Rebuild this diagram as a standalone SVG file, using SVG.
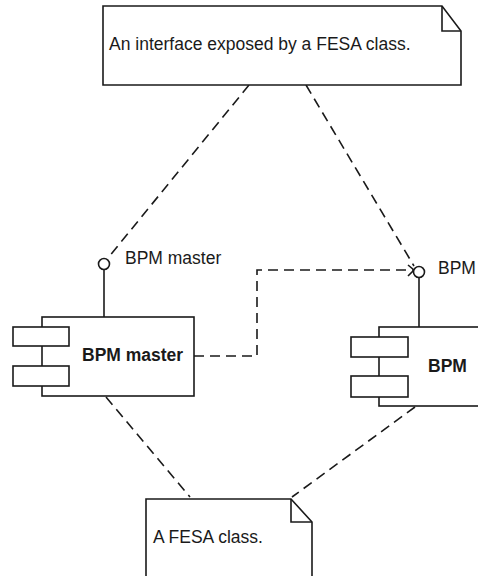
<svg xmlns="http://www.w3.org/2000/svg" width="478" height="576" viewBox="0 0 478 576">
<style>
.sh{fill:#fff;stroke:#1a1a1a;stroke-width:1.6}
.ln{fill:none;stroke:#1a1a1a;stroke-width:1.6}
.dash{fill:none;stroke:#1a1a1a;stroke-width:1.6;stroke-dasharray:10 6}
.t{font-family:"Liberation Sans",Arial,sans-serif;font-size:17.5px;fill:#1a1a1a}
.b{font-weight:bold}
</style>
<rect width="478" height="576" fill="#fff"/>
<g id="connectors">
<line class="dash" x1="249" y1="85" x2="108" y2="258"/>
<line class="dash" x1="306" y1="85" x2="414" y2="266"/>
<polyline class="dash" points="194,356 257,356 257,270 413,270"/>
<polyline class="ln" points="408,265 414,270 408,276"/>
<line class="dash" x1="106" y1="397" x2="190" y2="497"/>
<line class="dash" x1="415" y1="407" x2="292" y2="497"/>
</g>
<g id="note-interface">
<path class="sh" d="M103,6 H442 L461,31 V85 H103 Z"/>
<polyline class="ln" points="442,6 442,31 461,31"/>
<text class="t" x="109" y="50">An interface exposed by a FESA class.</text>
</g>
<g id="iface-bpm-master">
<line class="ln" x1="104" y1="270" x2="104" y2="317"/>
<circle class="sh" cx="104" cy="264" r="5.5"/>
<text class="t" x="125" y="264">BPM master</text>
</g>
<g id="comp-bpm-master">
<rect class="sh" x="42" y="317" width="152" height="79"/>
<rect class="sh" x="13" y="327" width="56" height="19"/>
<rect class="sh" x="13" y="366" width="56" height="20"/>
<text class="t b" x="82" y="361">BPM master</text>
</g>
<g id="iface-bpm">
<line class="ln" x1="419" y1="278" x2="419" y2="327"/>
<circle class="sh" cx="419" cy="272" r="5.5"/>
<text class="t" x="438" y="274">BPM</text>
</g>
<g id="comp-bpm">
<rect class="sh" x="379" y="327" width="110" height="79"/>
<rect class="sh" x="351" y="337" width="57" height="20"/>
<rect class="sh" x="351" y="376" width="57" height="21"/>
<text class="t b" x="428" y="372">BPM</text>
</g>
<g id="note-fesa-class">
<path class="sh" d="M146,499 H291 L312,522 V590 H146 Z"/>
<polyline class="ln" points="291,499 291,522 312,522"/>
<text class="t" x="153" y="543">A FESA class.</text>
</g>
</svg>
